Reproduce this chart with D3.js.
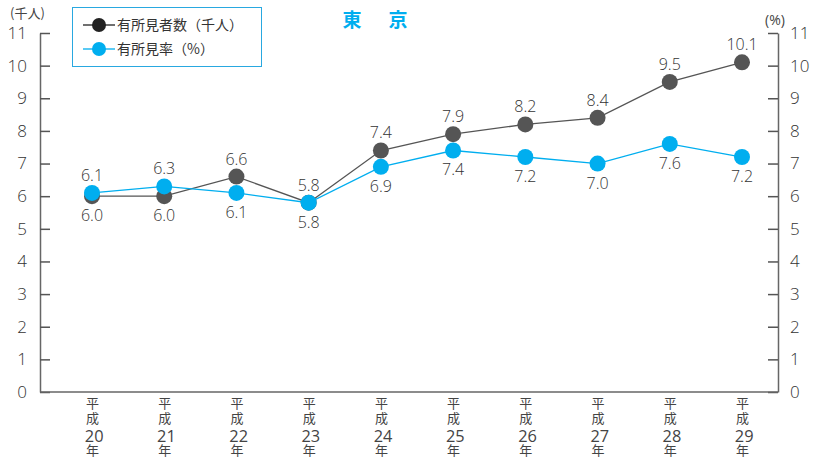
<!DOCTYPE html>
<html>
<head>
<meta charset="utf-8">
<script src="https://cdn.jsdelivr.net/npm/d3@7"></script>
<style>
  body { margin: 0; background: #fff; }
  #chart { position: relative; width: 821px; height: 464px; }
  svg { display: block; }
  .year-label {
    position: absolute;
    writing-mode: vertical-rl;
    font-family: 'Noto Sans CJK JP', sans-serif;
    font-size: 13px;
    line-height: 16px;
    letter-spacing: 2px;
    color: #444;
    white-space: nowrap;
  }
  .year-label .num {
    text-combine-upright: all;
    font-family: 'Open Sans', 'Noto Sans CJK JP', sans-serif;
    font-size: 17px;
    letter-spacing: 0;
  }
</style>
</head>
<body>
<div id="chart"></div>
<script>
// データ
const years = ["20", "21", "22", "23", "24", "25", "26", "27", "28", "29"];
const countValues = [6.0, 6.0, 6.6, 5.8, 7.4, 7.9, 8.2, 8.4, 9.5, 10.1];
const rateValues = [6.1, 6.3, 6.1, 5.8, 6.9, 7.4, 7.2, 7.0, 7.6, 7.2];
const yTicks = [0, 1, 2, 3, 4, 5, 6, 7, 8, 9, 10, 11];
const seriesNames = ["有所見者数（千人）", "有所見率（%）"];

document.addEventListener("DOMContentLoaded", function () {
  const width = 821;
  const height = 464;
  const left = 40, right = 778, top = 33, bottom = 392;
  const darkColor = "#555555";
  const blueColor = "#00aeef";
  const numFont = "'Open Sans', 'Noto Sans CJK JP', sans-serif";
  const cjkFont = "'Noto Sans CJK JP', sans-serif";
  const container = d3.select("#chart");

  const svg = container.append("svg")
    .attr("width", width)
    .attr("height", height);

  const x = d3.scalePoint().domain(years).range([92, 742]);
  const y = d3.scaleLinear().domain([0, 11]).range([bottom, top]);

  // 軸
  const leftAxis = svg.append("g")
    .attr("transform", `translate(${left},0)`)
    .call(d3.axisLeft(y).tickValues(yTicks).tickSize(-10).tickSizeOuter(0).tickPadding(13));
  const rightAxis = svg.append("g")
    .attr("transform", `translate(${right},0)`)
    .call(d3.axisRight(y).tickValues(yTicks).tickSize(-10).tickSizeOuter(0).tickPadding(12));

  [leftAxis, rightAxis].forEach(g => {
    g.select(".domain").attr("stroke", "#666").attr("stroke-width", 1.5);
    g.selectAll(".tick line").attr("stroke", "#555").attr("stroke-width", 1.5);
    g.selectAll(".tick text")
      .attr("fill", "#333")
      .attr("font-family", numFont)
      .attr("font-weight", 300)
      .attr("font-size", "17px");
  });

  svg.append("line")
    .attr("x1", left).attr("x2", right)
    .attr("y1", bottom).attr("y2", bottom)
    .attr("stroke", "#666")
    .attr("stroke-width", 1.5);

  // 縦書きの年ラベル（縦中横）
  years.forEach(yr => {
    const div = container.append("div")
      .attr("class", "year-label")
      .style("left", (x(yr) - 8) + "px")
      .style("top", "397px");
    div.append("span").text("平成");
    div.append("span").attr("class", "num").text(yr);
    div.append("span").text("年");
  });

  // 単位
  svg.append("text")
    .attr("x", 10).attr("y", 18)
    .attr("font-family", cjkFont)
    .attr("font-size", "13px")
    .attr("fill", "#444")
    .text("(千人)");
  svg.append("text")
    .attr("x", 765).attr("y", 25)
    .attr("font-family", numFont)
    .attr("font-size", "14px")
    .attr("fill", "#444")
    .text("(%)");

  // タイトル
  svg.append("text")
    .attr("x", 377).attr("y", 27)
    .attr("text-anchor", "middle")
    .attr("font-family", cjkFont)
    .attr("font-weight", "bold")
    .attr("font-size", "19px")
    .attr("letter-spacing", "4px")
    .attr("fill", blueColor)
    .text("東　京");

  const line = d3.line()
    .x((d, i) => x(years[i]))
    .y(d => y(d));

  function drawSeries(values, color, other, isCount) {
    svg.append("path")
      .datum(values)
      .attr("d", line)
      .attr("fill", "none")
      .attr("stroke", color)
      .attr("stroke-width", 1.3);

    svg.selectAll(null)
      .data(values)
      .enter().append("circle")
      .attr("cx", (d, i) => x(years[i]))
      .attr("cy", d => y(d))
      .attr("r", 8)
      .attr("fill", color);

    // ラベル：有所見者数が率以上なら上、率は反対側
    svg.selectAll(null)
      .data(values)
      .enter().append("text")
      .attr("x", (d, i) => x(years[i]))
      .attr("y", (d, i) => {
        const above = isCount ? d >= other[i] : d > other[i];
        return above ? y(d) - 12 : y(d) + 25;
      })
      .attr("text-anchor", "middle")
      .attr("font-family", numFont)
      .attr("font-weight", 300)
      .attr("font-size", "16px")
      .attr("fill", "#333")
      .text(d => d.toFixed(1));
  }

  drawSeries(countValues, darkColor, rateValues, true);
  drawSeries(rateValues, blueColor, countValues, false);

  // 凡例
  const legend = svg.append("g");
  legend.append("rect")
    .attr("x", 72.5).attr("y", 7.5)
    .attr("width", 189).attr("height", 59)
    .attr("fill", "#fff")
    .attr("stroke", "#29a8e0")
    .attr("stroke-width", 1);

  seriesNames.forEach((name, i) => {
    const ly = 25 + i * 24;
    const color = i === 0 ? "#222" : blueColor;
    legend.append("line")
      .attr("x1", 83).attr("x2", 115)
      .attr("y1", ly).attr("y2", ly)
      .attr("stroke", color)
      .attr("stroke-width", 1.3);
    legend.append("circle")
      .attr("cx", 99).attr("cy", ly)
      .attr("r", 7)
      .attr("fill", color);
    legend.append("text")
      .attr("x", 117).attr("y", ly + 5)
      .attr("font-family", cjkFont)
      .attr("font-size", "14px")
      .attr("fill", "#333")
      .text(name);
  });
});
</script>
</body>
</html>
